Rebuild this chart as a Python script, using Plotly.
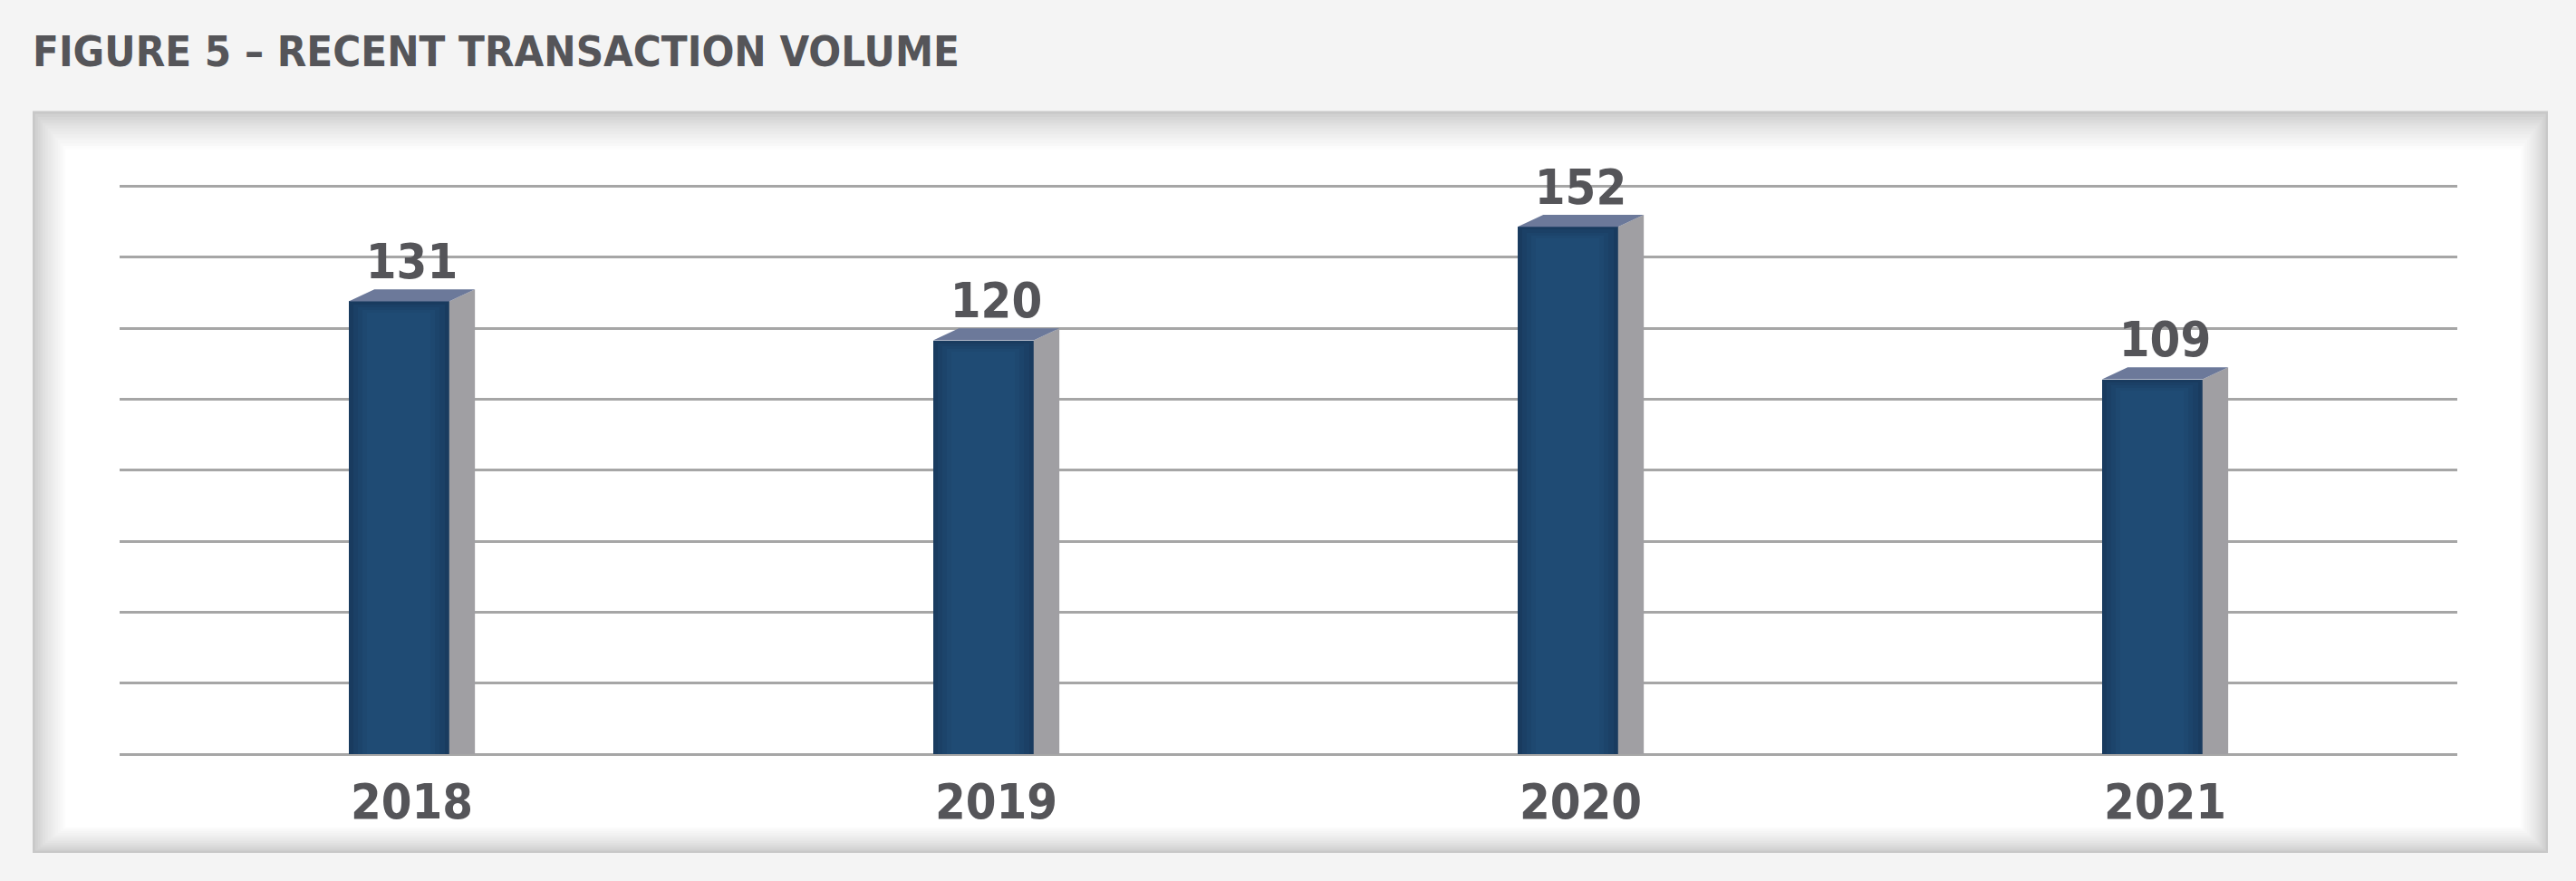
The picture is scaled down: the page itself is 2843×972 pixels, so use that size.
import plotly.graph_objects as go

# ---- data ----
categories = ["2018", "2019", "2020", "2021"]
values = [131, 120, 152, 109]
title_text = "FIGURE 5 – RECENT TRANSACTION VOLUME"
y_max_grid = 160
y_step = 20

# ---- style / geometry constants ----
W, H = 2843, 972
ML, MR, MB = 132, 131, 140
PX_PER_UNIT = 626 / y_max_grid
Y_TOP = 176                       # headroom so value labels stay inside range
PH = PX_PER_UNIT * Y_TOP
MT = H - MB - PH
PW = W - ML - MR
FONT = "DejaVu Sans Condensed, Liberation Sans Narrow, sans-serif"
TXT = "#555559"
GRID = "#a6a6a6"
FL, FR, SR = -0.108, 0.064, 0.108   # front-left, front-right, side-right (category units)
DEPTH = 3.4                         # 3d top depth in value units
SKEW = SR - FR
LABEL_GAP = 6.6                     # label centre above value, in value units

xs = list(range(len(categories)))

def px_x(p):
    return (p - ML) / PW

def px_y(p):
    return (H - MB - p) / PH

fig = go.Figure()

# front faces: layered bars approximating a radial gradient
front_cols = ["#193b5f", "#1b4066", "#1c446b", "#1e4870", "#1f4b74"]
for k, col in enumerate(front_cols):
    ix = k * 0.008
    it = k * 0.8
    fig.add_trace(go.Bar(
        x=xs, y=[v - DEPTH - it for v in values],
        width=(FR - FL) - 2 * ix, offset=FL + ix,
        marker=dict(color=col, line=dict(width=0)),
        hoverinfo="skip", showlegend=False))

# side faces
sx, sy = [], []
for c, v in zip(xs, values):
    sx += [c + FR, c + FR, c + SR, c + SR, c + FR, None]
    sy += [0, v - DEPTH, v, 0, 0, None]
fig.add_trace(go.Scatter(x=sx, y=sy, mode="lines", fill="toself",
                         fillcolor="#a09fa3", line=dict(width=0, color="#a09fa3"),
                         hoverinfo="skip", showlegend=False))

# top faces
tx, ty = [], []
for c, v in zip(xs, values):
    tx += [c + FL, c + FL + SKEW, c + SR, c + FR, c + FL, None]
    ty += [v - DEPTH, v, v, v - DEPTH, v - DEPTH, None]
fig.add_trace(go.Scatter(x=tx, y=ty, mode="lines", fill="toself",
                         fillcolor="#6c799a", line=dict(width=0, color="#6c799a"),
                         hoverinfo="skip", showlegend=False))

# value labels
fig.add_trace(go.Scatter(
    x=xs, y=[v + LABEL_GAP for v in values], mode="text",
    text=[str(v) for v in values], textposition="middle center",
    textfont=dict(family=FONT, size=54, color=TXT, weight="bold"),
    cliponaxis=False, hoverinfo="skip", showlegend=False))

# panel with inner shadow
shapes = []
N = 14
x0, y0, x1, y1 = 36, 123, 2812, 941
for i in range(N):
    t = i / (N - 1)
    g = int(200 + (255 - 200) * (t ** 0.7))
    col = f"rgb({g},{g},{g})"
    shapes.append(dict(type="rect", xref="paper", yref="paper", layer="below",
                       x0=px_x(x0 + i * 2.8), x1=px_x(x1 - i * 2.3),
                       y0=px_y(y1 - i * 2.2), y1=px_y(y0 + i * 3.2),
                       fillcolor=col, line=dict(width=0)))

fig.update_layout(
    width=W, height=H,
    margin=dict(l=ML, r=MR, t=MT, b=MB, pad=0),
    paper_bgcolor="#f4f4f4", plot_bgcolor="rgba(0,0,0,0)",
    barmode="overlay", bargap=0,
    shapes=shapes,
    title=dict(text=title_text, x=36 / W, xanchor="left", xref="container",
               y=1 - 57 / H, yanchor="middle", yref="container",
               font=dict(family=FONT, size=47, color=TXT, weight="bold")),
    xaxis=dict(range=[-0.5, 3.5], tickvals=xs, ticktext=categories,
               showgrid=False, zeroline=False, showline=False, ticks="",
               tickfont=dict(family=FONT, size=54, color=TXT, weight="bold"),
               ticklabelstandoff=16, fixedrange=True),
    yaxis=dict(range=[0, Y_TOP], tickmode="array",
               tickvals=list(range(0, y_max_grid + 1, y_step)),
               showticklabels=False,
               showgrid=True, gridcolor=GRID, gridwidth=3,
               zeroline=True, zerolinecolor=GRID, zerolinewidth=3,
               fixedrange=True),
    hovermode=False,
)

fig.write_html("out.html", config={"displayModeBar": False},
               post_script="document.body.style.margin='0';document.body.style.overflow='hidden';")
